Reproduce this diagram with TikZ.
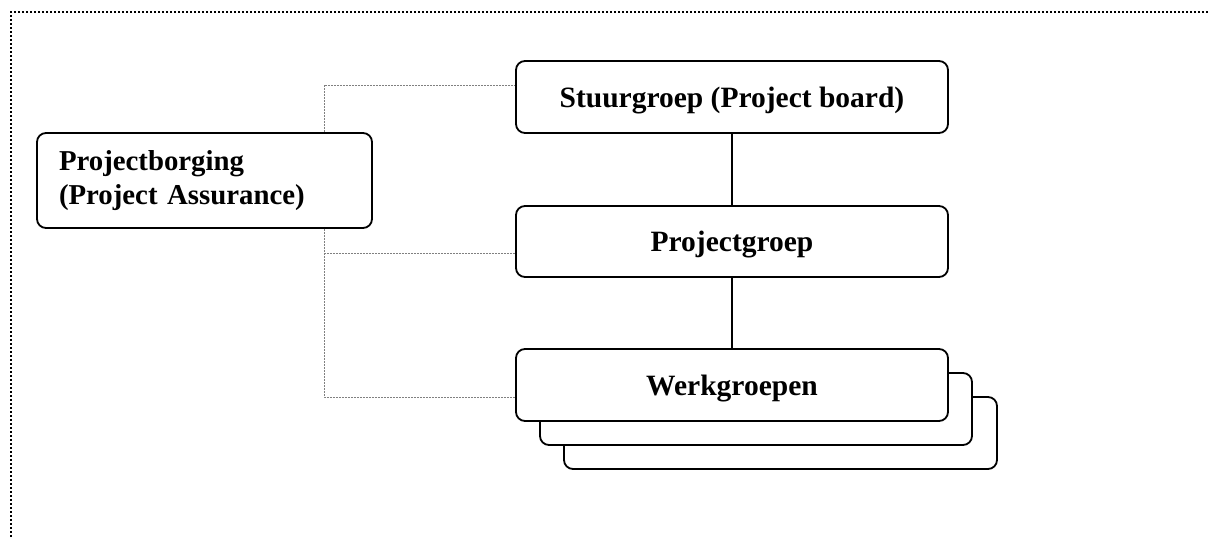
\documentclass[tikz,border=0pt]{standalone}
\usepackage{fontspec}
\setmainfont{Liberation Serif}
\begin{document}
\begin{tikzpicture}[x=1pt,y=-1pt,
  box/.style={draw=black, line width=1.8pt, rounded corners=9pt, fill=white,
    font=\fontsize{29.5}{33}\selectfont\bfseries, inner sep=0pt},
  conn/.style={draw=gray, line width=0.9pt, dash pattern=on 2pt off 1pt},
  link/.style={draw=black, line width=1.6pt},
  frame/.style={draw=black, line width=1.6pt, dash pattern=on 1.6pt off 2.4pt}]
\useasboundingbox (0,0) rectangle (1208,538);
\draw[frame] (1208,12) -- (11,12) -- (11,538);
% stacked work groups (back to front)
\node[box, minimum width=433pt, minimum height=72pt] (wg3) at (780.5,433) {};
\node[box, minimum width=432pt, minimum height=72pt] (wg2) at (756,409) {};
\node[box, minimum width=432pt, minimum height=72pt, text depth=-2pt] (wg) at (732,385) {Werkgroepen};
\node[box, minimum width=432pt, minimum height=72pt, text depth=-2pt] (sg) at (732,97) {Stuurgroep (Project board)};
\node[box, minimum width=432pt, minimum height=71pt, text depth=-2pt] (pg) at (732,241.5) {Projectgroep};
\node[box, minimum width=335pt, minimum height=95pt, text width=291pt, inner xsep=22pt, align=left, font=\fontsize{28.8}{33.5}\selectfont\bfseries] (pb) at (204.5,180.5) {Projectborging\\(Project Assurance)};
\coordinate (jx) at (324,0);
\draw[conn] (pb.north -| jx) |- ([yshift=12pt]sg.west);
\draw[conn] (pb.south -| jx) |- ([yshift=-11.5pt]pg.west);
\draw[conn] (pb.south -| jx) |- ([yshift=-12pt]wg.west);
\draw[link] (sg.south) -- (pg.north);
\draw[link] (pg.south) -- (wg.north);
\end{tikzpicture}
\end{document}
